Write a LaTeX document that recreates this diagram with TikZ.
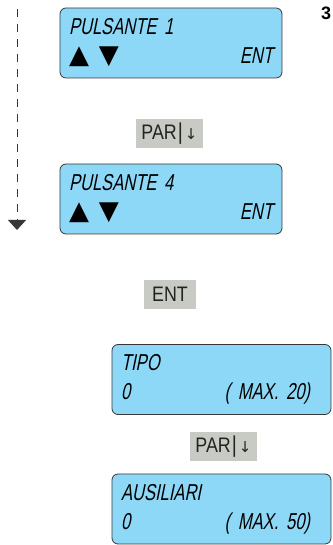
\documentclass[tikz,border=0pt]{standalone}
\usepackage{fontspec}
\usepackage{tikz}
\setmainfont{Liberation Sans}
\newfontfamily\lcdfont[FakeStretch=0.72,FakeSlant=0.2]{Liberation Sans}
\newfontfamily\keyfont[FakeStretch=0.85]{Liberation Sans}
\newfontfamily\symfont{DejaVu Sans}
\definecolor{lcdblue}{RGB}{141,216,247}
\definecolor{lcdframe}{RGB}{55,55,55}
\definecolor{keygray}{RGB}{200,203,196}
\definecolor{keytext}{RGB}{35,35,35}
\usetikzlibrary{arrows.meta, positioning}
\newcommand{\updown}{{\symfont\fontsize{26}{26}\selectfont ▲\hspace{10pt}▼}}
\newcommand{\pardown}{PAR\hspace{1pt}{\fontsize{23}{23}\selectfont|}\hspace{2pt}{\symfont\fontsize{15}{15}\selectfont ↓}}

\begin{document}
\begin{tikzpicture}[x=1pt, y=1pt,
    lcd/.style={draw=lcdframe, line width=0.8pt, rounded corners=6pt, fill=lcdblue,
                minimum width=#1, minimum height=70pt, inner xsep=9pt, align=left,
                font=\lcdfont\fontsize{23}{29}\selectfont},
    key/.style={fill=keygray, minimum width=52pt, minimum height=29pt, inner xsep=5pt,
                text=keytext, font=\keyfont\fontsize{21}{21}\selectfont}
]
    \useasboundingbox (0,0) rectangle (332,545);

    \node[lcd=222pt, text width=204pt] (lcd1) at (171,502) {PULSANTE 1\\ \updown\hfill ENT};

    \node[key] (key1) at (169.5,411.5) {\pardown};

    \node[lcd=222pt, text width=204pt] (lcd2) at (171,346) {PULSANTE 4\\ \updown\hfill ENT};

    \node[key] (key2) at (170,250.5) {ENT};

    \node[lcd=219pt, text width=201pt] (lcd3) at (221.5,165.5) {TIPO\\ 0\hfill( MAX. 20)\kern12pt};

    \node[key] (key3) at (223.5,98.5) {\pardown};

    \node[lcd=219pt, text width=201pt] (lcd4) at (221.5,36) {AUSILIARI\\ 0\hfill( MAX. 50)\kern12pt};

    \node[font=\bfseries\fontsize{18}{18}\selectfont, anchor=west, inner sep=0pt] (step3) at (321,532) {3};

    \coordinate (flowtop) at (17,536);
    \coordinate (flowend) at (17,315);
    \draw[lcdframe, line width=0.8pt, dash pattern=on 8pt off 7pt,
          -{Triangle[width=18pt,length=10pt]}] (flowtop) -- (flowend);
\end{tikzpicture}
\end{document}
